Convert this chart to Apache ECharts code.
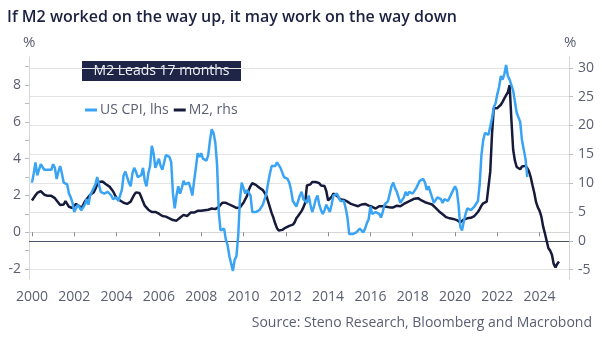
<!DOCTYPE html>
<html>
<head>
<meta charset="utf-8">
<script src="https://cdn.jsdelivr.net/npm/echarts@6/dist/echarts.min.js"></script>
<style>
  html, body { margin: 0; padding: 0; background: #ffffff; }
  #chart { width: 602px; height: 344px; }
</style>
</head>
<body>
<div id="chart"></div>
<script>
// Monthly series, first value is January 2000
const startYear = 2000;

// US CPI, year-on-year %, Jan 2000 - Jun 2023 (left axis)
const cpiYoY = [
  2.7, 3.2, 3.8, 3.1, 3.2, 3.7, 3.7, 3.4, 3.5, 3.4, 3.4, 3.4,
  3.7, 3.5, 2.9, 3.3, 3.6, 3.2, 2.7, 2.7, 2.6, 2.1, 1.9, 1.6,
  1.1, 1.1, 1.5, 1.6, 1.2, 1.1, 1.5, 1.8, 1.5, 2.0, 2.2, 2.4,
  2.6, 3.0, 3.0, 2.2, 2.1, 2.1, 2.1, 2.2, 2.3, 2.0, 1.8, 1.9,
  1.9, 1.7, 1.7, 2.3, 3.1, 3.3, 3.0, 2.7, 2.5, 3.2, 3.5, 3.3,
  3.0, 3.0, 3.1, 3.5, 2.8, 2.5, 3.2, 3.6, 4.7, 4.3, 3.5, 3.4,
  4.0, 3.6, 3.4, 3.5, 4.2, 4.3, 4.1, 3.8, 2.1, 1.3, 2.0, 2.5,
  2.1, 2.4, 2.8, 2.6, 2.7, 2.7, 2.4, 2.0, 2.8, 3.5, 4.3, 4.1,
  4.3, 4.0, 4.0, 3.9, 4.2, 5.0, 5.6, 5.4, 4.9, 3.7, 1.1, 0.1,
  0.0, 0.2, -0.4, -0.7, -1.3, -1.4, -2.1, -1.5, -1.3, -0.2, 1.8, 2.7,
  2.6, 2.1, 2.3, 2.2, 2.0, 1.1, 1.2, 1.1, 1.1, 1.2, 1.1, 1.5,
  1.6, 2.1, 2.7, 3.2, 3.6, 3.6, 3.6, 3.8, 3.9, 3.5, 3.4, 3.0,
  2.9, 2.9, 2.7, 2.3, 1.7, 1.7, 1.4, 1.7, 2.0, 2.2, 1.8, 1.7,
  1.6, 2.0, 1.5, 1.1, 1.4, 1.8, 2.0, 1.5, 1.2, 1.0, 1.2, 1.5,
  1.6, 1.1, 1.5, 2.0, 2.1, 2.1, 2.0, 1.7, 1.7, 1.7, 1.3, 0.8,
  -0.1, 0.0, -0.1, -0.2, 0.0, 0.1, 0.2, 0.2, 0.0, 0.2, 0.5, 0.7,
  1.4, 1.0, 0.9, 1.1, 1.0, 1.0, 0.8, 1.1, 1.5, 1.6, 1.7, 2.1,
  2.5, 2.7, 2.4, 2.2, 1.9, 1.6, 1.7, 1.9, 2.2, 2.0, 2.2, 2.1,
  2.1, 2.2, 2.4, 2.5, 2.8, 2.9, 2.9, 2.7, 2.3, 2.5, 2.2, 1.9,
  1.6, 1.5, 1.9, 2.0, 1.8, 1.6, 1.8, 1.7, 1.7, 1.8, 2.1, 2.3,
  2.5, 2.3, 1.5, 0.3, 0.1, 0.6, 1.0, 1.3, 1.4, 1.2, 1.2, 1.4,
  1.4, 1.7, 2.6, 4.2, 5.0, 5.4, 5.4, 5.3, 5.4, 6.2, 6.8, 7.0,
  7.5, 7.9, 8.5, 8.3, 8.6, 9.1, 8.5, 8.3, 8.2, 7.7, 7.1, 6.5,
  6.4, 6.0, 5.0, 4.9, 4.0, 3.0
];

// M2 money supply, year-on-year %, plotted 17 months ahead, Jan 2000 - Dec 2024 (right axis)
const m2YoYLead = [
  7.0, 7.3, 7.9, 8.3, 8.5, 8.6, 8.5, 8.0, 7.8, 7.8, 7.8, 7.8,
  7.7, 7.4, 7.0, 6.6, 6.2, 5.9, 6.3, 6.9, 6.4, 5.9, 5.8, 5.7,
  6.0, 6.4, 6.5, 6.0, 5.5, 6.2, 6.8, 7.2, 7.6, 8.0, 8.2, 8.4,
  9.0, 9.8, 10.2, 10.4, 10.3, 10.0, 9.8, 9.6, 9.4, 9.2, 8.6, 8.0,
  7.4, 7.2, 7.0, 6.8, 6.6, 6.5, 6.4, 6.6, 6.8, 7.4, 8.0, 8.4,
  8.5, 8.3, 7.6, 6.8, 6.1, 5.8, 5.4, 5.3, 5.0, 5.2, 5.0, 4.8,
  4.7, 4.6, 4.3, 4.4, 4.2, 4.1, 3.9, 3.7, 3.6, 3.5, 3.5, 3.8,
  4.0, 4.3, 4.5, 4.4, 4.3, 4.6, 4.9, 4.8, 4.9, 5.1, 5.2, 5.3,
  5.2, 5.1, 5.3, 5.4, 5.4, 5.5, 5.6, 5.4, 5.5, 5.6, 5.9, 6.2,
  6.6, 6.5, 6.6, 6.4, 6.3, 6.1, 6.0, 6.2, 5.7, 5.5, 5.8, 6.2,
  6.6, 6.9, 7.8, 8.8, 9.5, 10.0, 10.1, 9.7, 9.4, 9.2, 9.0, 8.8,
  8.3, 7.8, 6.8, 5.8, 4.8, 4.0, 3.0, 2.2, 1.8, 1.6, 1.9, 2.0,
  2.3, 2.4, 2.6, 2.9, 2.8, 3.2, 3.9, 4.3, 4.6, 5.2, 5.8, 6.6,
  9.6, 9.9, 9.8, 10.2, 10.0, 10.2, 10.4, 10.0, 9.6, 9.4, 9.5, 8.6,
  7.0, 7.2, 7.6, 8.2, 8.5, 7.8, 7.5, 7.2, 7.0, 7.1, 6.9, 6.8,
  6.5, 6.4, 6.3, 6.2, 6.1, 6.0, 6.2, 6.3, 6.2, 6.4, 6.3, 6.1,
  6.1, 5.9, 5.8, 5.6, 5.8, 6.0, 6.2, 6.0, 5.8, 5.9, 5.9, 5.8,
  5.7, 5.8, 5.9, 6.1, 5.9, 6.0, 6.3, 6.4, 6.5, 6.7, 6.8, 7.0,
  7.2, 7.3, 7.5, 7.4, 7.2, 7.0, 6.8, 6.7, 6.6, 6.5, 6.4, 6.3,
  6.0, 5.7, 5.4, 5.1, 4.9, 4.6, 4.3, 4.1, 4.0, 3.9, 3.8, 3.8,
  3.7, 3.6, 3.4, 3.2, 3.3, 3.7, 3.6, 3.9, 4.0, 4.0, 4.2, 4.3,
  4.6, 5.0, 5.5, 6.1, 6.5, 6.7, 6.8, 7.0, 12.0, 18.5, 23.0, 23.3,
  23.0, 22.8, 23.6, 24.1, 24.7, 25.0, 25.8, 27.0, 21.0, 15.8, 13.9, 12.8,
  12.5, 12.4, 12.9, 13.1, 13.0, 12.6, 12.0, 11.0, 9.6, 8.3, 6.7, 5.8,
  5.2, 4.2, 2.5, 1.3, 0.0, -1.3, -1.7, -2.4, -4.0, -4.6, -4.0, -3.6
];

// Axis ticks and labels
const yearTicks = [2000, 2002, 2004, 2006, 2008, 2010, 2012, 2014, 2016, 2018, 2020, 2022, 2024];
const lhsLabels = [-2, 0, 2, 4, 6, 8];
const lhsTicks = [-2, -1, 0, 1, 2, 3, 4, 5, 6, 7, 8, 9];
const rhsTicks = [-5, 0, 5, 10, 15, 20, 25, 30];

const seriesNames = ['US CPI, lhs', 'M2, rhs'];
const titleText = 'If M2 worked on the way up, it may work on the way down';
const leadText = 'M2 Leads 17 months';
const sourceText = 'Source: Steno Research, Bloomberg and Macrobond';

const FONT = '"Open Sans", "Noto Sans", sans-serif';
const NAVY = '#1c2142';
const BLUE = '#3aa4f4';
const M2C = '#161b3c';
const GREY_TEXT = '#5a5e72';

function toPoints(values) {
  return values.map((v, i) => [startYear + i / 12, v]);
}

const chart = echarts.init(document.getElementById('chart'), null, { renderer: 'canvas' });

chart.setOption({
  animation: false,
  backgroundColor: '#ffffff',
  textStyle: { fontFamily: FONT },
  title: {
    text: titleText,
    left: 7,
    top: 9,
    padding: 0,
    textStyle: { fontFamily: FONT, fontSize: 16, fontWeight: 600, color: NAVY }
  },
  legend: {
    data: seriesNames,
    left: 85,
    top: 103,
    padding: 0,
    icon: 'rect',
    itemWidth: 12,
    itemHeight: 3,
    itemGap: 5,
    textStyle: { fontFamily: FONT, fontSize: 14, color: GREY_TEXT, padding: [0, 0, 0, -2] }
  },
  grid: { left: 29, right: 33, top: 57, bottom: 65, containLabel: false },
  xAxis: {
    type: 'value',
    min: 1999.86,
    max: 2025.39,
    axisLine: { show: true, lineStyle: { color: '#d6d6d6', width: 1 } },
    axisTick: { show: true, customValues: yearTicks, length: 4, lineStyle: { color: '#888c99' } },
    axisLabel: {
      customValues: yearTicks,
      formatter: (v) => String(v),
      margin: 11,
      fontSize: 14,
      color: GREY_TEXT,
      fontFamily: FONT
    },
    splitLine: { show: false }
  },
  yAxis: [
    {
      type: 'value',
      position: 'left',
      min: -2.54,
      max: 9.53,
      axisLine: { show: true, lineStyle: { color: '#d6d6d6', width: 1 } },
      axisTick: { show: true, customValues: lhsTicks, length: 4, lineStyle: { color: '#b8bac4' } },
      axisLabel: {
        customValues: lhsLabels,
        margin: 8,
        fontSize: 14,
        color: GREY_TEXT,
        fontFamily: FONT
      },
      splitLine: { show: false }
    },
    {
      type: 'value',
      position: 'right',
      min: -6.62,
      max: 31.88,
      axisLine: { show: true, lineStyle: { color: '#d6d6d6', width: 1 } },
      axisTick: { show: true, customValues: rhsTicks, length: 4, lineStyle: { color: '#b8bac4' } },
      axisLabel: {
        customValues: rhsTicks,
        margin: 9,
        fontSize: 14,
        color: GREY_TEXT,
        fontFamily: FONT
      },
      splitLine: { show: true, lineStyle: { color: '#e4e4e6', width: 1 } }
    }
  ],
  series: [
    {
      name: seriesNames[1],
      type: 'line',
      yAxisIndex: 1,
      data: toPoints(m2YoYLead),
      showSymbol: false,
      symbol: 'none',
      color: M2C,
      lineStyle: { color: M2C, width: 2.5 },
      z: 3,
      markLine: {
        silent: true,
        symbol: ['none', 'none'],
        label: { show: false },
        lineStyle: { color: '#4a5169', width: 1, type: 'solid' },
        data: [{ yAxis: 0 }],
        z: 1
      }
    },
    {
      name: seriesNames[0],
      type: 'line',
      yAxisIndex: 0,
      data: toPoints(cpiYoY),
      showSymbol: false,
      symbol: 'none',
      color: BLUE,
      lineStyle: { color: BLUE, width: 2.5 },
      z: 4
    }
  ],
  graphic: [
    {
      type: 'text',
      left: 23,
      top: 35,
      style: { text: '%', fontFamily: FONT, fontSize: 15, fill: GREY_TEXT }
    },
    {
      type: 'text',
      left: 564,
      top: 35,
      style: { text: '%', fontFamily: FONT, fontSize: 15, fill: GREY_TEXT }
    },
    {
      type: 'group',
      left: 82,
      top: 61,
      children: [
        {
          type: 'rect',
          shape: { x: 0, y: 0, width: 159, height: 20 },
          style: { fill: '#1f2546' }
        },
        {
          type: 'text',
          x: 79.5,
          y: 10,
          style: {
            text: leadText,
            fontFamily: FONT,
            fontSize: 14,
            fill: '#eef0f6',
            align: 'center',
            verticalAlign: 'middle'
          }
        }
      ]
    },
    {
      type: 'text',
      right: 10,
      top: 316,
      style: { text: sourceText, fontFamily: FONT, fontSize: 14, fill: GREY_TEXT }
    }
  ]
});
</script>
</body>
</html>
